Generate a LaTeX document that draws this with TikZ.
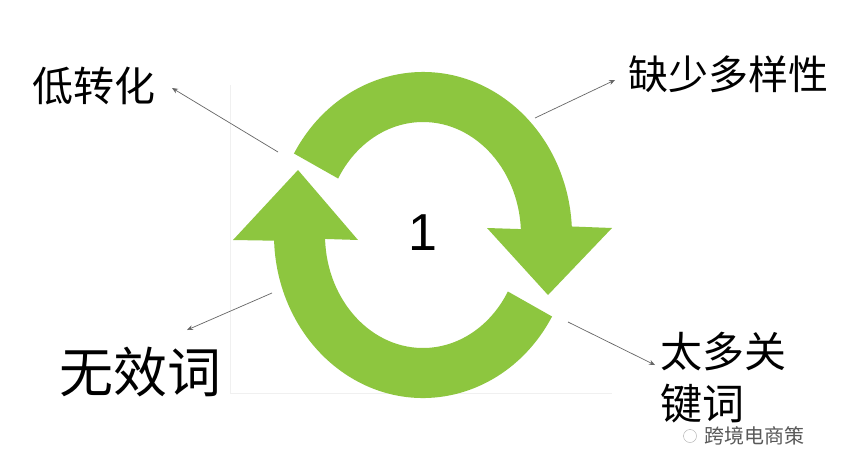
\documentclass[tikz,border=0pt]{standalone}
\usepackage{fontspec}
\setmainfont{Liberation Sans}
\newfontfamily\cjk{Noto Sans CJK SC}
\usetikzlibrary{arrows.meta,calc}
\definecolor{ringgreen}{RGB}{141,198,63}
\tikzset{
  ring/.style={fill=ringgreen,draw=none},
  pointer/.style={draw=gray!80!black,line width=0.7pt,-{Stealth[length=6pt,width=5pt]}},
  label/.style={font=\cjk,inner sep=0pt,align=left},
}
\begin{document}
\begin{tikzpicture}[x=1pt,y=-1pt]
\useasboundingbox[fill=white] (0,0) rectangle (841,472);
\draw[gray!12] (230,85) -- (230,393) -- (612,393);
% upper arc with down arrow
\path[ring] (423,235) ++(210:149 and 163) arc[start angle=210,end angle=357,x radius=149,y radius=163]
  -- (612,228) -- (548,295) -- (487,228)
  -- ($(423,235)+(357:98 and 113)$) arc[start angle=357,end angle=210,x radius=98,y radius=113] -- cycle;
% lower arc with up arrow
\path[ring] (423,235) ++(30:149 and 163) arc[start angle=30,end angle=178,x radius=149,y radius=163]
  -- (233,240) -- (298,170) -- (358,240)
  -- ($(423,235)+(178:98 and 113)$) arc[start angle=178,end angle=30,x radius=98,y radius=113] -- cycle;
\node[font=\fontsize{52}{56}\selectfont] (one) at (423,233) {1};
\node[label,font=\cjk\fontsize{41}{48}\selectfont] (low) at (94,86) {低转化};
\node[label,font=\cjk\fontsize{40}{48}\selectfont] (div) at (728,74) {缺少多样性};
\node[label,font=\cjk\fontsize{54}{60}\selectfont] (inv) at (140,372) {无效词};
\node[label,font=\cjk\fontsize{42}{52}\selectfont,anchor=north west] (many) at (660,332) {太多关\\键词};
\coordinate (a1) at (278,152); \coordinate (a2) at (535,118);
\coordinate (a3) at (272,293); \coordinate (a4) at (568,322);
\coordinate (t1) at (172,88); \coordinate (t2) at (615,80);
\coordinate (t3) at (187,330); \coordinate (t4) at (655,365);
\draw[pointer] (a1) -- (t1);
\draw[pointer] (a2) -- (t2);
\draw[pointer] (a3) -- (t3);
\draw[pointer] (a4) -- (t4);
% watermark
\node[draw=gray!70,circle,minimum size=13pt,inner sep=0pt] (ic) at (690,436) {};
\node[label,font=\cjk\fontsize{20}{24}\selectfont,text=gray!70!black,anchor=west] (wm) at (704,436) {跨境电商策};
\end{tikzpicture}
\end{document}
